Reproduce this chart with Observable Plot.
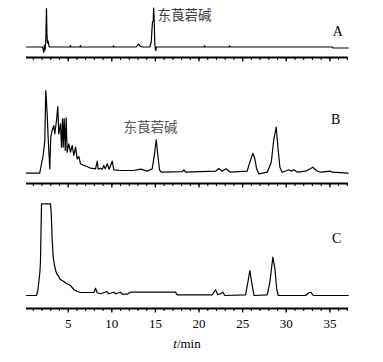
<!DOCTYPE html>
<html>
<head>
<meta charset="utf-8">
<script src="https://cdn.jsdelivr.net/npm/d3@7"></script>
<script src="https://cdn.jsdelivr.net/npm/@observablehq/plot@0.6"></script>
<style>
  html, body { margin: 0; padding: 0; background: #fff; }
  #wrap { position: relative; width: 383px; height: 362px; overflow: hidden; }
  #wrap svg { display: block; }
  #xlabel { position: absolute; left: 0; width: 374px; top: 336px; text-align: center;
            font-family: "Liberation Serif", serif; font-size: 13px; color: #000; }
</style>
</head>
<body>
<div id="wrap"><div id="charts"></div><div id="xlabel"><i>t</i>/min</div></div>
<script>
// ---- data (time in min, detector signal in arbitrary units) ----
const xDomain = [0.22, 37.1];
const majorTicks = [5, 10, 15, 20, 25, 30, 35];
const minorTicks = d3.range(1, 38);

const traceA = [
  [0.22,0],[2.0,0],[2.1,-1],[2.2,-5.5],[2.28,2],[2.35,-3],[2.43,6],[2.51,38.5],[2.57,12],
  [2.62,4],[2.7,6],[2.8,1],[2.9,0],[5.2,0],[5.26,1.5],[5.32,0],[6.35,0],[6.41,1.5],[6.47,0],
  [10.15,0],[10.2,1.2],[10.25,0],[12.8,0],[13.06,3],[13.3,0.5],[13.5,0],
  [14.36,0],[14.52,5],[14.62,20],[14.67,25],[14.74,26],[14.8,39],[14.85,30],[14.93,3],
  [15.0,-2],[15.05,-3.5],[15.12,0],[20.58,0],[20.63,1.2],[20.68,0],[23.45,0],[23.5,1.2],
  [23.55,0],[35.3,0],[35.35,-1],[37.1,-1]
];
const traceB = [
  [0.22,0],[1.74,0],[1.9,7.7],[2.13,17.7],[2.32,32.7],[2.43,82.7],[2.59,59.4],[2.7,36],
  [2.89,4.4],[3.0,36],[3.16,42.7],[3.35,47.7],[3.46,39.4],[3.66,52.7],[3.81,66.7],[3.92,39.4],
  [4.12,49.4],[4.23,26],[4.35,54.4],[4.43,26],[4.54,54.4],[4.66,22.7],[4.77,55.4],[4.88,21],
  [5.07,29.4],[5.26,21],[5.46,27.7],[5.64,17.7],[5.84,26],[6.03,14.4],[6.22,16.7],[6.41,9.4],
  [6.79,7.7],[7.18,6.7],[7.56,5],[8.13,4.4],[8.33,12],[8.44,4],[8.7,5],[8.9,4],[9.08,7.7],
  [9.25,4.5],[9.47,9.4],[9.7,4],[10.05,12],[10.23,3.4],[11.0,2.7],[12.5,2.7],[13.29,4],
  [14.06,2],[14.63,4.4],[14.9,19.4],[15.09,33.4],[15.28,17.7],[15.47,3.4],[15.67,1],
  [18.07,1.5],[18.26,3.4],[18.45,1],[21.89,2],[22.27,4.7],[22.66,2],[23.08,4.4],[23.61,1],
  [25.52,2],[25.82,11],[26.17,20],[26.4,14.4],[26.6,4.4],[26.86,-0.6],[27.82,1],[28.28,11],
  [28.58,34.4],[28.85,46],[29.04,26],[29.27,6],[29.54,1],[30.3,3.4],[30.6,2],[30.87,3.4],
  [31.26,1],[32.2,2],[32.79,4.7],[33.05,6],[33.48,2.5],[33.94,1],[35.08,2],[35.27,1],[37.1,0]
];
const traceC = [
  [0.22,0],[1.36,0],[1.52,5],[1.63,13.3],[1.75,23.3],[1.82,33.3],[1.94,91.7],[2.97,91.7],
  [3.05,83.3],[3.16,56.7],[3.28,38.3],[3.43,30],[3.6,24],[3.74,20.7],[3.93,19.3],[4.0,17],
  [4.12,16],[4.3,15],[4.5,14],[4.7,12.5],[4.88,11.7],[5.05,11],[5.26,10],[5.45,8],[5.64,6],
  [5.85,5],[6.03,4],[6.41,3],[7.94,3],[8.13,7.3],[8.33,2.7],[8.71,1.7],[9.47,4],[9.66,1.7],
  [10.24,3.3],[10.43,1.7],[11.0,3.3],[11.19,1.3],[11.77,1.3],[12.15,3.3],[17.3,3.3],[17.5,0.7],
  [21.5,0.7],[21.89,5.7],[22.16,0.7],[22.45,1.7],[22.73,3.3],[22.96,0],[25.33,0.7],[25.6,13.3],
  [25.83,25],[26.03,13.3],[26.3,0],[27.82,0.7],[28.12,13.3],[28.46,38.3],[28.7,26.7],[28.9,6.7],
  [29.08,0],[32.22,0],[32.6,2.7],[32.8,3.3],[33.1,0],[37.1,0]
];

const compoundName = "东莨菪碱";
const compoundA = [{t: 15.24, s: 31.5, label: compoundName}];
const compoundB = [{t: 14.44, s: 45.7, label: compoundName}];
const panelA = [{t: 35.9, s: 15.5, label: "A"}];
const panelB = [{t: 35.65, s: 53.7, label: "B"}];
const panelC = [{t: 35.77, s: 57, label: "C"}];

const toRows = arr => arr.map(([t, s]) => ({t, s}));

function panel({trace, yDomain, height, marginBottom, labels, texts, textColor, textAnchor, showLabels}) {
  const blank = () => "";
  const marks = [
    Plot.ruleY([yDomain[0]], {stroke: "#000", strokeWidth: 1.8}),
    Plot.axisX({ticks: minorTicks, tickSize: 3, strokeWidth: 1.1, tickFormat: blank, label: null}),
    Plot.axisX({ticks: majorTicks, tickSize: 4.5, strokeWidth: 1.2, tickPadding: 6,
                tickFormat: showLabels ? d => String(d) : blank, label: null,
                fontSize: 13, fill: "#000"}),
    Plot.line(toRows(trace), {x: "t", y: "s", stroke: "#000", strokeWidth: 1.2}),
    Plot.text(texts, {x: "t", y: "s", text: "label", fill: textColor, textAnchor,
                      fontFamily: "Noto Sans CJK SC", fontSize: 13.5}),
    Plot.text(labels, {x: "t", y: "s", text: "label", fill: "#000",
                       fontFamily: "Liberation Serif", fontSize: 14})
  ];
  return Plot.plot({
    width: 383, height, marginTop: 0, marginBottom, marginLeft: 26, marginRight: 35.3,
    style: {fontFamily: "Liberation Serif", fontSize: "13px", color: "#000", background: "#fff", overflow: "visible"},
    x: {domain: xDomain, axis: null, label: null},
    y: {domain: yDomain, axis: null},
    marks
  });
}

const charts = document.getElementById("charts");
charts.append(
  panel({trace: traceA, yDomain: [-10.5, 46.5], height: 63, marginBottom: 6,
         labels: panelA, texts: compoundA, textColor: "#3a3a3a", textAnchor: "start", showLabels: false}),
  panel({trace: traceB, yDomain: [-10.3, 109.7], height: 126, marginBottom: 6,
         labels: panelB, texts: compoundB, textColor: "#555", textAnchor: "middle", showLabels: false}),
  panel({trace: traceC, yDomain: [-13, 106], height: 146, marginBottom: 27,
         labels: panelC, texts: [], textColor: "#000", textAnchor: "middle", showLabels: true})
);
</script>
</body>
</html>
